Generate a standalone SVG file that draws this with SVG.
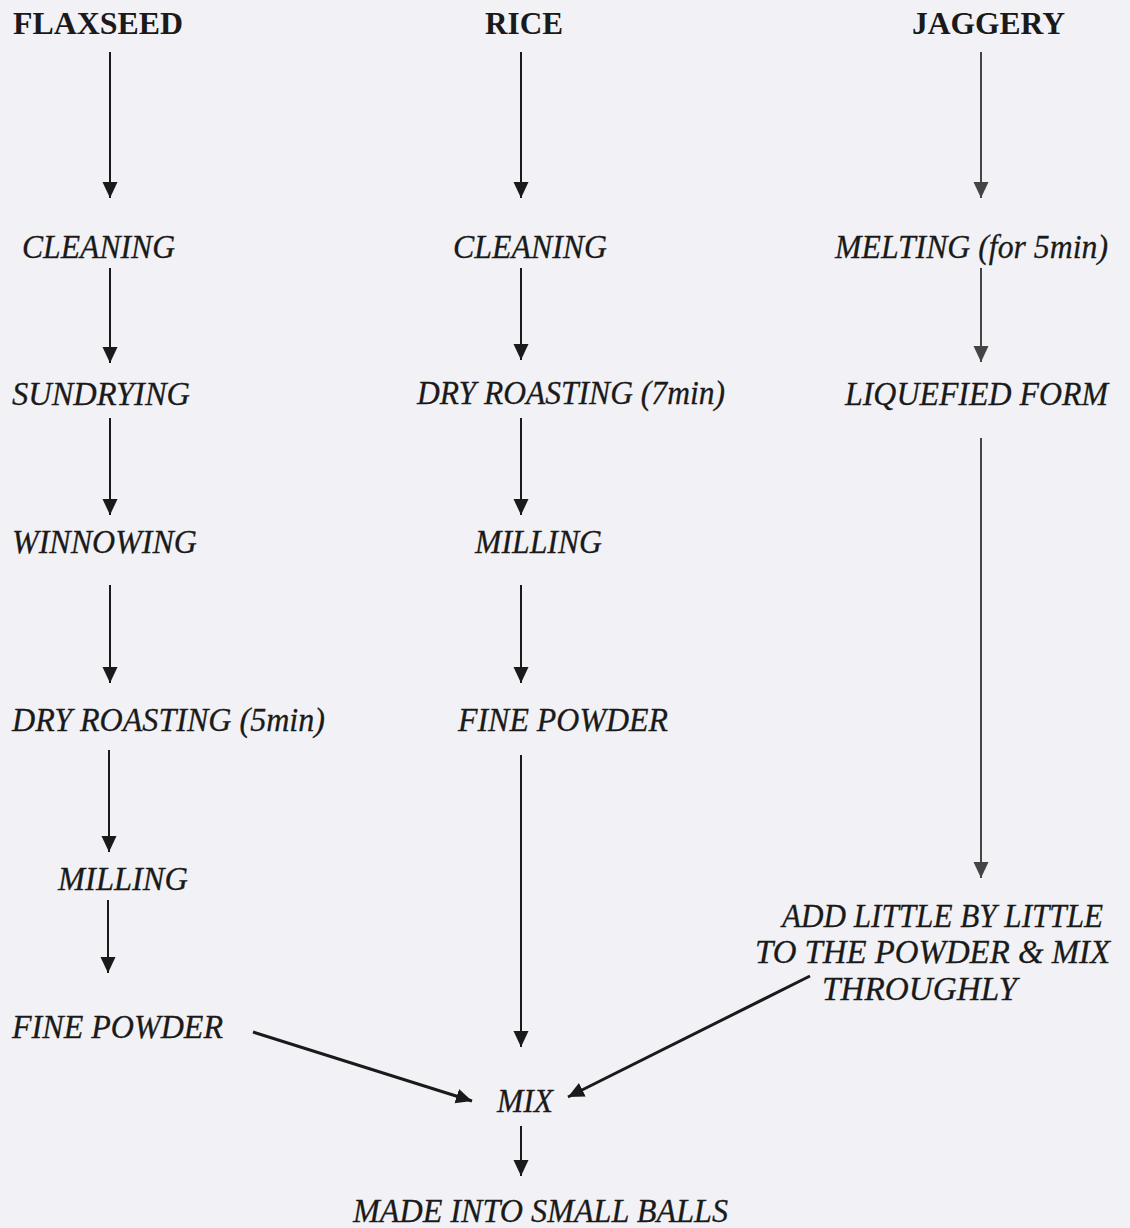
<svg xmlns="http://www.w3.org/2000/svg" width="1130" height="1228" viewBox="0 0 1130 1228">
<defs>
<marker id="ah" markerUnits="userSpaceOnUse" markerWidth="16" markerHeight="17" viewBox="0 0 17 16" refX="17" refY="8" orient="auto">
<path d="M0,0 L17,8 L0,16 Z" fill="#1a1a1a"/>
</marker>
<marker id="ahg" markerUnits="userSpaceOnUse" markerWidth="16" markerHeight="17" viewBox="0 0 17 16" refX="17" refY="8" orient="auto">
<path d="M0,0 L17,8 L0,16 Z" fill="#444"/>
</marker>
<style>
.h{font-family:"Liberation Serif","Times New Roman",serif;font-weight:bold;font-size:32px;fill:#1a1a1a}
.t{font-family:"Liberation Serif","Times New Roman",serif;font-style:italic;font-size:34px;fill:#1a1a1a;stroke:#1a1a1a;stroke-width:0.3}
.a{stroke:#1a1a1a;stroke-width:2;fill:none;marker-end:url(#ah)}
.g{stroke:#444;stroke-width:2;fill:none;marker-end:url(#ahg)}
.d{stroke:#1a1a1a;stroke-width:3;fill:none;marker-end:url(#ah)}
</style>
</defs>
<rect width="1130" height="1228" fill="#f2f2f6"/>
<g id="connectors">
<line class="a" x1="110" y1="52" x2="110" y2="198"/>
<line class="a" x1="110" y1="268" x2="110" y2="363"/>
<line class="a" x1="110" y1="418" x2="110" y2="515"/>
<line class="a" x1="110" y1="585" x2="110" y2="683"/>
<line class="a" x1="109" y1="750" x2="109" y2="852"/>
<line class="a" x1="108" y1="900" x2="108" y2="973"/>
<line class="a" x1="521" y1="52" x2="521" y2="198"/>
<line class="a" x1="521" y1="268" x2="521" y2="360"/>
<line class="a" x1="521" y1="418" x2="521" y2="515"/>
<line class="a" x1="521" y1="585" x2="521" y2="683"/>
<line class="a" x1="521" y1="755" x2="521" y2="1047"/>
<line class="a" x1="521" y1="1126" x2="521" y2="1176"/>
<line class="g" x1="981" y1="52" x2="981" y2="198"/>
<line class="g" x1="981" y1="268" x2="981" y2="362"/>
<line class="g" x1="981" y1="438" x2="981" y2="878"/>
<line class="d" x1="253" y1="1032" x2="472" y2="1101"/>
<line class="d" x1="810" y1="976" x2="568" y2="1097"/>
</g>
<g id="flaxseed"><text class="h" x="13" y="34" textLength="170" lengthAdjust="spacingAndGlyphs">FLAXSEED</text></g>
<g id="rice"><text class="h" x="485" y="34" textLength="78" lengthAdjust="spacingAndGlyphs">RICE</text></g>
<g id="jaggery"><text class="h" x="912" y="34" textLength="153" lengthAdjust="spacingAndGlyphs">JAGGERY</text></g>
<g id="f-cleaning"><text class="t" x="22" y="258" textLength="153" lengthAdjust="spacingAndGlyphs">CLEANING</text></g>
<g id="r-cleaning"><text class="t" x="453" y="258" textLength="154" lengthAdjust="spacingAndGlyphs">CLEANING</text></g>
<g id="j-melting"><text class="t" x="835" y="258" textLength="273" lengthAdjust="spacingAndGlyphs">MELTING (for 5min)</text></g>
<g id="f-sundrying"><text class="t" x="12" y="405" textLength="178" lengthAdjust="spacingAndGlyphs">SUNDRYING</text></g>
<g id="r-dryroasting"><text class="t" x="417" y="404" textLength="308" lengthAdjust="spacingAndGlyphs">DRY ROASTING (7min)</text></g>
<g id="j-liquefied"><text class="t" x="845" y="405" textLength="263" lengthAdjust="spacingAndGlyphs">LIQUEFIED FORM</text></g>
<g id="f-winnowing"><text class="t" x="12" y="553" textLength="185" lengthAdjust="spacingAndGlyphs">WINNOWING</text></g>
<g id="r-milling"><text class="t" x="475" y="553" textLength="127" lengthAdjust="spacingAndGlyphs">MILLING</text></g>
<g id="f-dryroasting"><text class="t" x="12" y="731" textLength="313" lengthAdjust="spacingAndGlyphs">DRY ROASTING (5min)</text></g>
<g id="r-finepowder"><text class="t" x="458" y="731" textLength="210" lengthAdjust="spacingAndGlyphs">FINE POWDER</text></g>
<g id="f-milling"><text class="t" x="58" y="890" textLength="130" lengthAdjust="spacingAndGlyphs">MILLING</text></g>
<g id="f-finepowder"><text class="t" x="12" y="1038" textLength="211" lengthAdjust="spacingAndGlyphs">FINE POWDER</text></g>
<g id="j-add">
<text class="t" x="782" y="927" textLength="321" lengthAdjust="spacingAndGlyphs">ADD LITTLE BY LITTLE</text>
<text class="t" x="755" y="963" textLength="355" lengthAdjust="spacingAndGlyphs">TO THE POWDER &amp; MIX</text>
<text class="t" x="822" y="1000" textLength="195" lengthAdjust="spacingAndGlyphs">THROUGHLY</text>
</g>
<g id="mix"><text class="t" x="497" y="1112" textLength="56" lengthAdjust="spacingAndGlyphs">MIX</text></g>
<g id="balls"><text class="t" x="353" y="1222" textLength="375" lengthAdjust="spacingAndGlyphs">MADE INTO SMALL BALLS</text></g>
</svg>
